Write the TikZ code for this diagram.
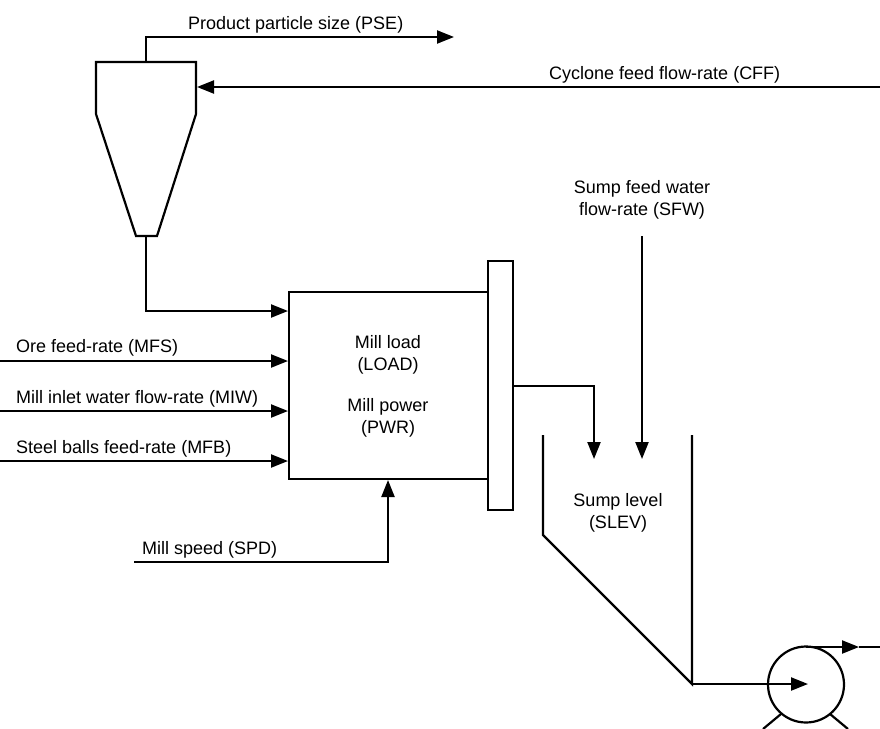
\documentclass[tikz,border=0pt]{standalone}
\usepackage{fontspec}
\setmainfont{Liberation Sans}
\usetikzlibrary{arrows.meta}
\tikzset{
  pipe/.style={line width=2.2pt,line join=miter},
  flow/.style={pipe,-{Triangle[length=17pt,width=13pt]}},
  unit/.style={draw,line width=2.2pt,fill=white,inner sep=0pt,outer sep=0pt,minimum width=#1,anchor=north west},
  lab/.style={inner sep=0pt,font=\fontsize{18}{22}\selectfont,align=center},
  llab/.style={lab,anchor=base west},
}
\begin{document}
\begin{tikzpicture}[x=1pt,y=-1pt]
\useasboundingbox (0,0) rectangle (880,728);
% Cyclone
\coordinate (cycTL) at (96,62);
\coordinate (cycTR) at (196,62);
\coordinate (cycSR) at (196,114);
\coordinate (cycBR) at (157,236);
\coordinate (cycBL) at (136,236);
\coordinate (cycSL) at (96,114);
\coordinate (cycTop) at (146,62);
\coordinate (cycBot) at (146,236);
\coordinate (cycIn) at (197,87);
\draw[pipe] (cycTL) -- (cycTR) -- (cycSR) -- (cycBR) -- (cycBL) -- (cycSL) -- cycle;
% Cyclone connections
\coordinate (pseEnd) at (454,37);
\coordinate (pseCor) at (146,37);
\coordinate (cffStart) at (880,87);
\draw[flow] (cycTop) -- (pseCor) -- (pseEnd);
\draw[flow] (cffStart) -- (cycIn);
% Mill
\node[unit=199pt,minimum height=187pt] (mill) at (289,292) {};
\node[unit=25pt,minimum height=249pt] (trommel) at (488,261) {};
\coordinate (recCor) at (146,311);
\coordinate (recIn) at (288,311);
\draw[flow] (cycBot) -- (recCor) -- (recIn);
\coordinate (mfsS) at (0,361);\coordinate (mfsE) at (288,361);
\coordinate (miwS) at (0,411);\coordinate (miwE) at (288,411);
\coordinate (mfbS) at (0,461);\coordinate (mfbE) at (288,461);
\draw[flow] (mfsS) -- (mfsE);
\draw[flow] (miwS) -- (miwE);
\draw[flow] (mfbS) -- (mfbE);
\coordinate (spdS) at (134,562);\coordinate (spdC) at (388,562);\coordinate (spdE) at (388,480);
\draw[flow] (spdS) -- (spdC) -- (spdE);
% Trommel to sump
\coordinate (outS) at (513,386);\coordinate (outC) at (594,386);\coordinate (outE) at (594,459);
\draw[flow] (outS) -- (outC) -- (outE);
\coordinate (sfwS) at (642,236);\coordinate (sfwE) at (642,459);
\draw[flow] (sfwS) -- (sfwE);
% Sump
\coordinate (sL) at (543,435);\coordinate (sLb) at (543,535);\coordinate (sB) at (692,684);\coordinate (sR) at (692,435);
\draw[pipe] (sL) -- (sLb) -- (sB) -- (sR);
% Pump
\node[draw,circle,line width=2.2pt,minimum size=76pt,inner sep=0pt,outer sep=0pt] (pump) at (806,684.5) {};
\coordinate (pumpIn) at (808,684);
\draw[flow] (sB) -- (pumpIn);
\coordinate (pumpTop) at (806,647);\coordinate (pumpMid) at (859,647);\coordinate (pumpOut) at (880,647);
\draw[flow] (pumpTop) -- (pumpMid);
\draw[pipe] (pumpMid) -- (pumpOut);
\coordinate (legL) at (781,714);\coordinate (legLb) at (763,729);
\coordinate (legR) at (830,714);\coordinate (legRb) at (848,729);
\draw[pipe] (legL) -- (legLb);
\draw[pipe] (legR) -- (legRb);
% Labels
\node[llab] (tPSE) at (188,29) {Product particle size (PSE)};
\node[llab] (tCFF) at (549,79) {Cyclone feed flow-rate (CFF)};
\node[lab] (tSFW) at (642,200) {Sump feed water\\flow-rate (SFW)};
\node[llab] (tMFS) at (16,352) {Ore feed-rate (MFS)};
\node[llab] (tMIW) at (16,403) {Mill inlet water flow-rate (MIW)};
\node[llab] (tMFB) at (16,453) {Steel balls feed-rate (MFB)};
\node[llab] (tSPD) at (142,554) {Mill speed (SPD)};
\node[lab] (tLOAD) at (388,355) {Mill load\\(LOAD)};
\node[lab] (tPWR) at (388,418) {Mill power\\(PWR)};
\node[lab] (tSLEV) at (618,513) {Sump level\\(SLEV)};
\end{tikzpicture}
\end{document}
